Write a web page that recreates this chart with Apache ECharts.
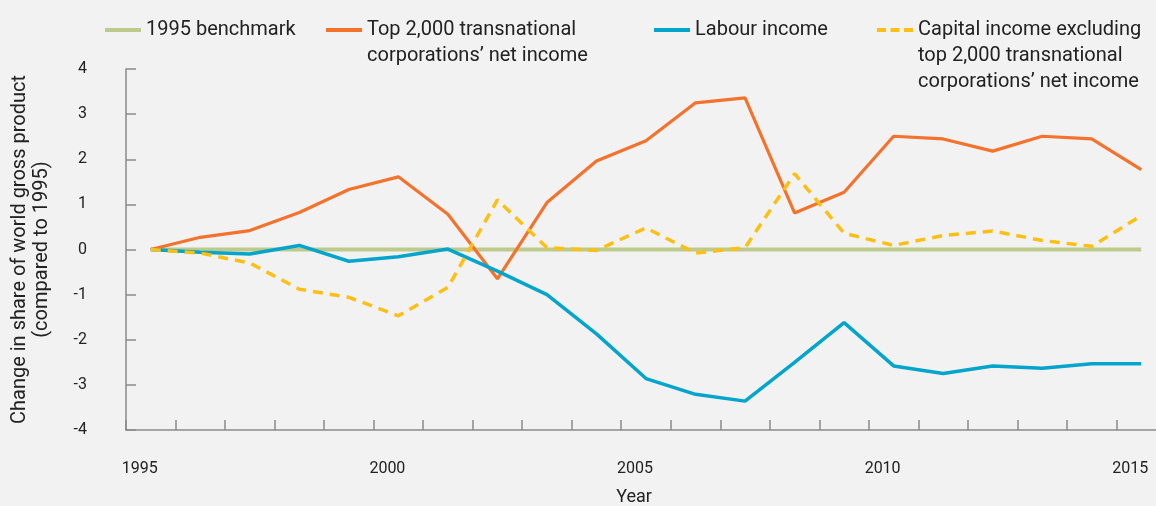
<!DOCTYPE html>
<html>
<head>
<meta charset="utf-8">
<script src="https://cdn.jsdelivr.net/npm/echarts@6/dist/echarts.min.js"></script>
<style>
  html, body { margin: 0; padding: 0; background: #f2f2f2; }
  #linesChart { width: 1156px; height: 506px; }
</style>
</head>
<body>
<div id="linesChart"></div>
<script>
const years = ['1995','1996','1997','1998','1999','2000','2001','2002','2003','2004','2005',
  '2006','2007','2008','2009','2010','2011','2012','2013','2014','2015']
const benchmark = [0,0,0,0,0,0,0,0,0,0,0,0,0,0,0,0,0,0,0,0,0]
const top2000 = [0, 0.27, 0.42, 0.82, 1.33, 1.61, 0.78, -0.65, 1.04, 1.96, 2.41,
  3.25, 3.36, 0.81, 1.27, 2.51, 2.45, 2.18, 2.51, 2.45, 1.77]
const labour = [0, -0.06, -0.1, 0.09, -0.26, -0.16, 0.01, -0.48, -1.0, -1.87, -2.86,
  -3.21, -3.36, -2.5, -1.62, -2.58, -2.75, -2.58, -2.63, -2.53, -2.53]
const capital = [0, -0.08, -0.3, -0.88, -1.06, -1.47, -0.84, 1.1, 0.04, -0.02, 0.48,
  -0.08, 0.04, 1.68, 0.36, 0.09, 0.31, 0.41, 0.2, 0.07, 0.75]

const names = [
  '1995 benchmark',
  'Top 2,000 transnational\ncorporations’ net income',
  'Labour income',
  'Capital income excluding\ntop 2,000 transnational\ncorporations’ net income'
]
const colorArr = ['#bccb8b', '#f4722b', '#03a5cd', '#fdbf12']

const font = 'Roboto'
const txt = '#222'
const axisGrey = '#8a8a8a'

const solidIcon = 'path://M0,0H36V4H0Z'
const dashIcon = 'path://M0,0H9V4H0Z M13.5,0H22.5V4H13.5Z M27,0H36V4H27Z'

// one legend per item so each can sit where the reference puts it;
// blank lines in front keep the icon level with the first text line
function legendItem(i, left, top, icon) {
  const extra = names[i].split('\n').length - 1
  return {
    data: [{ name: names[i], icon: icon }],
    left: left,
    top: top,
    padding: 0,
    selectedMode: false,
    itemWidth: 36,
    itemHeight: 4,
    itemGap: 5,
    formatter: function (name) {
      return ' \n'.repeat(extra) + name
    },
    textStyle: {
      fontFamily: font,
      fontSize: 20,
      lineHeight: 26,
      color: txt
    }
  }
}

let myChart = echarts.init(document.getElementById('linesChart'))
myChart.setOption({
  backgroundColor: '#f2f2f2',
  animation: false,
  legend: [
    legendItem(0, 105, 17, solidIcon),
    legendItem(1, 326, -9, solidIcon),
    legendItem(2, 654, 17, solidIcon),
    legendItem(3, 877, -35, dashIcon)
  ],
  grid: {
    left: 126,
    right: -10,
    top: 69,
    bottom: 76,
    containLabel: false,
    outerBoundsMode: 'none'
  },
  xAxis: {
    type: 'category',
    data: years,
    boundaryGap: true,
    name: 'Year',
    nameLocation: 'middle',
    nameGap: 58,
    nameTextStyle: {
      fontFamily: font,
      fontSize: 18,
      color: txt,
      padding: [0, 24, 0, 0]
    },
    axisLine: {
      show: true,
      onZero: false,
      lineStyle: { color: axisGrey, width: 1.5 }
    },
    axisTick: {
      show: true,
      inside: true,
      length: 10,
      interval: 0,
      lineStyle: { color: axisGrey, width: 1.5 }
    },
    axisLabel: {
      interval: 4,
      margin: 31,
      fontFamily: font,
      fontSize: 16,
      color: txt,
      padding: [0, 22, 0, 0]
    },
    splitLine: { show: false }
  },
  yAxis: {
    type: 'value',
    min: -4,
    max: 4,
    interval: 1,
    name: 'Change in share of world gross product\n(compared to 1995)',
    nameLocation: 'middle',
    nameGap: 73,
    nameTextStyle: {
      fontFamily: font,
      fontSize: 20,
      lineHeight: 22,
      color: txt,
      align: 'center'
    },
    axisLine: {
      show: true,
      onZero: false,
      lineStyle: { color: axisGrey, width: 1.5 }
    },
    axisTick: {
      show: true,
      inside: true,
      length: 10,
      lineStyle: { color: axisGrey, width: 1.5 }
    },
    axisLabel: {
      margin: 39,
      fontFamily: font,
      fontSize: 16,
      color: txt
    },
    splitLine: { show: false }
  },
  series: [
    {
      name: names[0], type: 'line', data: benchmark, symbol: 'none',
      itemStyle: { color: colorArr[0] },
      lineStyle: { color: colorArr[0], width: 4 }
    },
    {
      name: names[1], type: 'line', data: top2000, symbol: 'none',
      itemStyle: { color: colorArr[1] },
      lineStyle: { color: colorArr[1], width: 3.2 }
    },
    {
      name: names[2], type: 'line', data: labour, symbol: 'none',
      itemStyle: { color: colorArr[2] },
      lineStyle: { color: colorArr[2], width: 3.5 }
    },
    {
      name: names[3], type: 'line', data: capital, symbol: 'none',
      itemStyle: { color: colorArr[3] },
      lineStyle: { color: colorArr[3], width: 3.5, type: [10, 7] }
    }
  ]
})
</script>
</body>
</html>
